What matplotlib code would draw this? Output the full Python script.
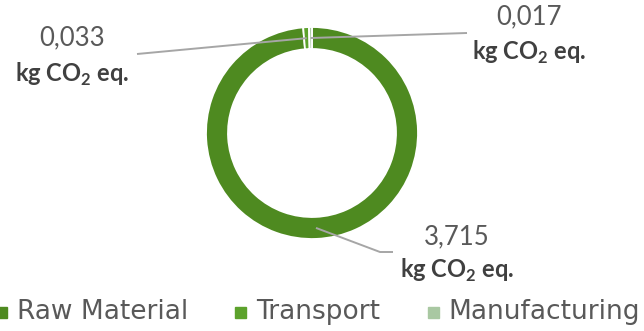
import numpy as np
import matplotlib
matplotlib.use("Agg")
import matplotlib.pyplot as plt
from matplotlib.patches import Rectangle

# ── Data ──────────────────────────────────────────────────────────────────────
categories = ["Raw Material", "Transport", "Manufacturing"]
values     = [3.715, 0.033, 0.017]
val_labels = ["3,715", "0,033", "0,017"]
colors     = ["#4e8a20", "#5ca22c", "#a9c8a2"]

# ── Layout (pixel coords, y measured from top) ────────────────────────────────
W, H = 644, 331
CX, CY, R, RW = 312, 133, 106, 22
# leader end point, label centre x, number centre y, unit baseline y
label_pos = [
    dict(path=[(380, 252), (393, 252)], x=457, num_y=237, unit_y=278),
    dict(path=[(137, 54)],              x=72,  num_y=38,  unit_y=82),
    dict(path=[(467, 33)],              x=529, num_y=17,  unit_y=60),
]
legend_x = [(-4, 17), (235, 256), (428, 448)]
legend_y = 312

plt.rcParams["mathtext.fontset"] = "custom"
plt.rcParams["mathtext.rm"] = "Lato"
plt.rcParams["mathtext.bf"] = "Lato:bold"

fig = plt.figure(figsize=(W / 100, H / 100), dpi=100)
ax = fig.add_axes([0, 0, 1, 1])

def Y(y):
    return H - y

wedges, _ = ax.pie(values, colors=colors, startangle=90, counterclock=False,
                   radius=R, center=(CX, Y(CY)),
                   wedgeprops=dict(width=RW, edgecolor="white", linewidth=1.3))
ax.set_xlim(0, W)
ax.set_ylim(0, H)
ax.set_aspect("equal", adjustable="box")
ax.axis("off")

# Leader lines + labels
for w, lab, pos in zip(wedges, val_labels, label_pos):
    ang = np.deg2rad((w.theta1 + w.theta2) / 2)
    r_mid = R - RW / 2
    ax0 = CX + r_mid * np.cos(ang)
    ay0 = Y(CY) + r_mid * np.sin(ang)
    xs = [ax0] + [p[0] for p in pos["path"]]
    ys = [ay0] + [Y(p[1]) for p in pos["path"]]
    ax.plot(xs, ys, color="#a6a6a6", lw=1.4, solid_capstyle="butt", zorder=5)
    ax.text(pos["x"], Y(pos["num_y"]), lab, ha="center", va="center",
            fontsize=18.5, family="Lato", color="#595959")
    ax.text(pos["x"], Y(pos["unit_y"]), r"kg CO$_{\mathbf{2}}$ eq.",
            ha="center", va="baseline", fontsize=17, family="Lato",
            fontweight="bold", color="#404040")

# Legend
for (mx, tx), name, c in zip(legend_x, categories, colors):
    ax.add_patch(Rectangle((mx, Y(legend_y) - 6), 11, 11, color=c,
                           clip_on=False))
    ax.text(tx, Y(legend_y), name, ha="left", va="center", fontsize=19,
            family="DejaVu Sans", color="#595959")

fig.savefig("out.png", dpi=100)
